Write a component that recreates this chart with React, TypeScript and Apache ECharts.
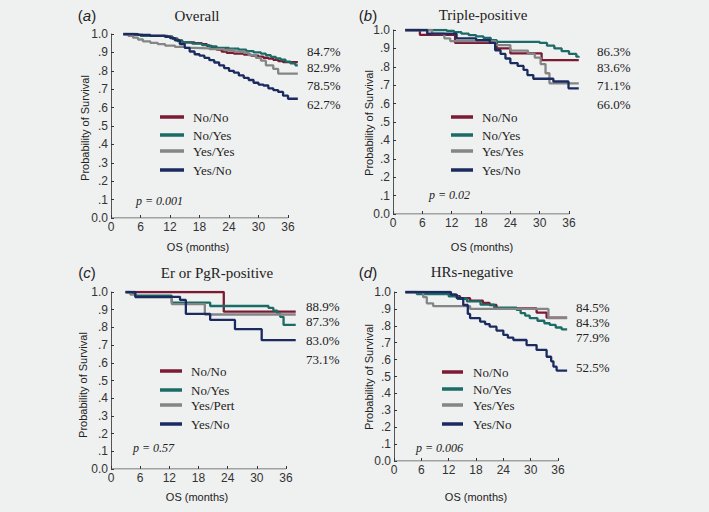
import React, { useEffect, useRef } from "react";
import * as echarts from "echarts";

type Pt = [number, number];

// ---------- Data ----------
const panelLetters = ["a", "b", "c", "d"];
const panelTitles = ["Overall", "Triple-positive", "Er or PgR-positive", "HRs-negative"];
const legendNames = [
  ["No/No", "No/Yes", "Yes/Yes", "Yes/No"],
  ["No/No", "No/Yes", "Yes/Yes", "Yes/No"],
  ["No/No", "No/Yes", "Yes/Pert", "Yes/No"],
  ["No/No", "No/Yes", "Yes/Yes", "Yes/No"],
];
const pctLabels = [
  ["84.7%", "82.9%", "78.5%", "62.7%"],
  ["86.3%", "83.6%", "71.1%", "66.0%"],
  ["88.9%", "87.3%", "83.0%", "73.1%"],
  ["84.5%", "84.3%", "77.9%", "52.5%"],
];
const pValues = ["p = 0.001", "p = 0.02", "p = 0.57", "p = 0.006"];
const xTicks = [0, 6, 12, 18, 24, 30, 36];
const xDataMax = 38; // curves run slightly past the last tick
const yTicks = [0, 0.1, 0.2, 0.3, 0.4, 0.5, 0.6, 0.7, 0.8, 0.9, 1.0];

// Panel (a) Overall
const aNoNo: Pt[] = [[2.5,1.0],[5,0.995],[6.5,0.99],[11.5,0.985],[12.5,0.975],[13.5,0.965],[14.5,0.955],[17,0.95],[18.5,0.945],[19.5,0.935],[20.5,0.925],[21.5,0.915],[22.5,0.905],[23.5,0.898],[25,0.893],[27,0.888],[28.5,0.882],[30,0.877],[31,0.871],[32,0.866],[33,0.86],[34,0.853],[35,0.847],[38,0.847]];
const aNoYes: Pt[] = [[2.5,1.0],[4.5,0.995],[6,0.99],[11,0.985],[12.5,0.975],[13.5,0.962],[14.5,0.955],[16.5,0.948],[18.5,0.94],[20,0.932],[21.5,0.925],[24,0.92],[26,0.915],[27.5,0.907],[29,0.9],[30.5,0.893],[31.5,0.885],[32.5,0.876],[33.5,0.868],[34.5,0.86],[35.5,0.85],[36.5,0.84],[37.5,0.83],[38,0.829]];
const aYesYes: Pt[] = [[2.5,1.0],[3.5,0.99],[4.5,0.98],[5.5,0.97],[6.5,0.96],[8,0.952],[9.5,0.945],[11,0.937],[13,0.93],[15,0.925],[17,0.922],[20,0.918],[23,0.913],[25,0.905],[27,0.898],[28,0.885],[29.5,0.87],[30.5,0.855],[31.5,0.83],[33,0.81],[34,0.785],[38,0.785]];
const aYesNo: Pt[] = [[2.5,1.0],[5.5,0.995],[8,0.99],[11,0.985],[12,0.978],[13,0.965],[14,0.945],[15,0.925],[16,0.905],[17,0.89],[18,0.882],[19,0.87],[20,0.858],[21,0.845],[22,0.83],[23,0.815],[24,0.8],[25,0.79],[26,0.775],[27,0.762],[28,0.75],[29,0.735],[30,0.725],[31,0.72],[32,0.705],[33,0.695],[34,0.685],[35,0.665],[36,0.648],[38,0.645]];

// Panel (b) Triple-positive
const bNoNo: Pt[] = [[2.5,1.0],[5.5,0.973],[12.7,0.93],[21.2,0.9],[24,0.873],[30.4,0.836],[38,0.836]];
const bNoYes: Pt[] = [[2.5,1.0],[11,0.995],[12.5,0.988],[14,0.98],[15.5,0.972],[17,0.965],[18.5,0.957],[20,0.945],[21.2,0.936],[30,0.93],[31.5,0.915],[33,0.9],[34.5,0.885],[36,0.87],[37.5,0.855],[38,0.851]];
const bYesYes: Pt[] = [[2.5,1.0],[8,0.98],[10.5,0.955],[11.7,0.94],[21,0.918],[24,0.888],[27.6,0.87],[29,0.85],[30.2,0.815],[31.2,0.765],[32,0.71],[38,0.708]];
const bYesNo: Pt[] = [[2.5,1.0],[7,0.98],[13,0.955],[17,0.945],[19.8,0.93],[20.9,0.89],[22,0.87],[23,0.845],[24,0.82],[25.5,0.805],[26.7,0.783],[27.5,0.755],[28.7,0.735],[32.8,0.72],[35.9,0.683],[38,0.683]];

// Panel (c) Er or PgR-positive
const cNoNo: Pt[] = [[3,1.0],[23.2,0.889],[38,0.889]];
const cNoYes: Pt[] = [[3,1.0],[4,0.99],[5,0.979],[12.5,0.94],[20.4,0.921],[32.4,0.91],[33.4,0.895],[34.2,0.878],[34.8,0.86],[35.5,0.814],[38,0.813]];
const cYesPert: Pt[] = [[3,1.0],[4,0.985],[5,0.97],[12.5,0.932],[19.3,0.873],[38,0.873]];
const cYesNo: Pt[] = [[3,1.0],[5,0.973],[14.2,0.955],[15.4,0.876],[20.4,0.842],[25.5,0.79],[31,0.728],[38,0.728]];

// Panel (d) HRs-negative
const dNoNo: Pt[] = [[2.5,1.0],[12.3,0.985],[13.5,0.975],[14.5,0.963],[16.7,0.949],[19.5,0.935],[21,0.923],[22.5,0.903],[31.3,0.878],[33.5,0.848],[38,0.845]];
const dNoYes: Pt[] = [[2.5,1.0],[5,0.988],[12,0.975],[14,0.96],[16,0.945],[19,0.925],[22,0.908],[26.9,0.895],[27.8,0.875],[28.8,0.86],[29.8,0.845],[31.5,0.83],[33,0.815],[34.2,0.805],[35.5,0.79],[36.8,0.779],[38,0.779]];
const dYesYes: Pt[] = [[2.5,1.0],[6.4,0.97],[7.2,0.933],[8.6,0.917],[16.7,0.9],[33.9,0.845],[38,0.845]];
const dYesNo: Pt[] = [[2.5,1.0],[12.5,0.985],[13.8,0.963],[15.2,0.923],[16.2,0.87],[16.7,0.845],[18.9,0.825],[20,0.81],[21,0.795],[22.5,0.772],[24,0.746],[25,0.73],[26.2,0.716],[29.1,0.686],[31.3,0.657],[33.5,0.617],[34.5,0.59],[35,0.558],[35.7,0.535],[38,0.535]];

const panelSeries: Pt[][][] = [
  [aNoNo, aNoYes, aYesYes, aYesNo],
  [bNoNo, bNoYes, bYesYes, bYesNo],
  [cNoNo, cNoYes, cYesPert, cYesNo],
  [dNoNo, dNoYes, dYesYes, dYesNo],
];

// ---------- Layout / style ----------
const BG = "#eff0f0";
const AXIS = "#555";
const colors = ["#7a1a33", "#1b6b66", "#858585", "#1b2b5f"];
// pixel width of 0..36 months per panel; grid spans 0..38
const span36 = [177, 176, 175, 164];
const gridBase = [
  { left: 111, top: 34, height: 184 },
  { left: 393, top: 30, height: 184 },
  { left: 111, top: 292, height: 177 },
  { left: 394, top: 292, height: 169 },
];
const grids = gridBase.map((g, i) => ({ ...g, width: (span36[i] * xDataMax) / 36 }));
const letterPos = [[87, 15], [368, 15], [87, 272], [368, 272]];
const titlePos = [[197, 16], [483, 15], [217, 273], [472, 272]];
const yNamePos = [[85, 128], [369, 123], [83, 385], [369, 377]];
const xNamePos = [[198, 247], [482, 247], [197, 497], [476, 497]];
const pctPos = [
  [307, [51, 67, 85, 104]],
  [597, [51, 67, 85, 104]],
  [306, [306, 321, 340, 359]],
  [576, [307, 322, 337, 367]],
] as [number, number[]][];
const legendPos = [
  [160, 184, 193, [117, 135, 151, 170]],
  [451, 473, 482, [117, 135, 151, 170]],
  [160, 182, 191, [371, 390, 405, 424]],
  [442, 463, 473, [372, 389, 405, 424]],
] as [number, number, number, number[]][];
const pPos = [[136, 201], [429, 195], [133, 448], [416, 448]];

const SANS = "'Liberation Sans', Arial, sans-serif";
const SERIF = "'Liberation Serif', 'Times New Roman', serif";

function txt(x: number, y: number, text: string, font: string, align = "center", extra: any = {}) {
  return {
    type: "text",
    x,
    y,
    silent: true,
    ...extra,
    style: {
      text,
      font,
      fill: "#222",
      align,
      verticalAlign: "middle",
      textAlign: align,
      textVerticalAlign: "middle",
    },
  };
}

export default function App() {
  const ref = useRef<HTMLDivElement>(null);
  useEffect(() => {
    if (!ref.current) return;
    const chart = echarts.init(ref.current, undefined, { renderer: "svg" });
    const graphics: any[] = [];
    for (let p = 0; p < 4; p++) {
      graphics.push({
        type: "text",
        x: letterPos[p][0],
        y: letterPos[p][1],
        silent: true,
        style: {
          text: "{n|(}{i|" + panelLetters[p] + "}{n|)}",
          align: "center",
          verticalAlign: "middle",
          textAlign: "center",
          textVerticalAlign: "middle",
          rich: {
            n: { font: "15px " + SANS, fill: "#222" },
            i: { font: "italic 15px " + SANS, fill: "#222" },
          },
        },
      });
      graphics.push(txt(titlePos[p][0], titlePos[p][1], panelTitles[p], "15px " + SERIF));
      graphics.push(txt(yNamePos[p][0], yNamePos[p][1], "Probability of Survival", "11px " + SANS, "center", { rotation: Math.PI / 2 }));
      graphics.push(txt(xNamePos[p][0], xNamePos[p][1], "OS (months)", "11px " + SANS));
      for (let k = 0; k < 4; k++) {
        graphics.push(txt(pctPos[p][0], pctPos[p][1][k], pctLabels[p][k], "13px " + SERIF, "left"));
        const [lx1, lx2, tx, ys] = legendPos[p];
        graphics.push({
          type: "line",
          silent: true,
          shape: { x1: lx1, y1: ys[k], x2: lx2, y2: ys[k] },
          style: { stroke: colors[k], lineWidth: 3.5 },
        });
        graphics.push(txt(tx, ys[k], legendNames[p][k], "13px " + SERIF, "left"));
      }
      graphics.push(txt(pPos[p][0], pPos[p][1], pValues[p], "italic 12px " + SERIF, "left"));
    }

    const xAxis = grids.map((_, i) => ({
      type: "value",
      gridIndex: i,
      min: xTicks[0],
      max: xDataMax,
      interval: 6,
      splitLine: { show: false },
      axisLine: { show: false },
      axisTick: { show: true, inside: true, length: 3, customValues: xTicks, lineStyle: { color: "#333" } },
      axisLabel: {
        fontFamily: SANS,
        fontSize: 12,
        color: "#333",
        margin: 3,
        customValues: xTicks,
        showMinLabel: true,
        showMaxLabel: true,
        hideOverlap: false,
        formatter: (v: number) => (xTicks.indexOf(v) >= 0 ? String(v) : ""),
      },
    }));
    const yAxis = grids.map((_, i) => ({
      type: "value",
      gridIndex: i,
      min: yTicks[0],
      max: yTicks[yTicks.length - 1],
      interval: 0.1,
      splitLine: { show: false },
      axisLine: { show: true, onZero: false, lineStyle: { color: AXIS, width: 1 } },
      axisTick: { show: true, inside: true, length: 3, lineStyle: { color: "#333" } },
      axisLabel: {
        fontFamily: SANS,
        fontSize: 12,
        color: "#333",
        margin: 3,
        formatter: (v: number) => {
          const r = Math.round(v * 10);
          if (r === 10) return "1.0";
          if (r === 0) return "0.0";
          return "." + r;
        },
      },
    }));
    const series: any[] = [];
    for (let p = 0; p < 4; p++) {
      // x-axis baseline from 0 to 36 months
      series.push({
        type: "line",
        xAxisIndex: p,
        yAxisIndex: p,
        data: [[xTicks[0], 0], [xTicks[xTicks.length - 1], 0]],
        symbol: "none",
        silent: true,
        z: 1,
        lineStyle: { color: AXIS, width: 1 },
      });
      for (let k = 0; k < 4; k++) {
        series.push({
          type: "line",
          name: legendNames[p][k],
          xAxisIndex: p,
          yAxisIndex: p,
          data: panelSeries[p][k],
          step: "end",
          symbol: "none",
          z: k === 3 ? 5 : 3,
          lineStyle: { color: colors[k], width: 2.3 },
        });
      }
    }

    chart.setOption({
      animation: false,
      backgroundColor: BG,
      grid: grids.map((g) => ({ ...g, containLabel: false })),
      xAxis,
      yAxis,
      series,
      graphic: graphics,
    });
    return () => chart.dispose();
  }, []);
  return (
    <div
      ref={ref}
      style={{ position: "absolute", left: 0, top: 0, width: 709, height: 512, background: BG }}
    />
  );
}
